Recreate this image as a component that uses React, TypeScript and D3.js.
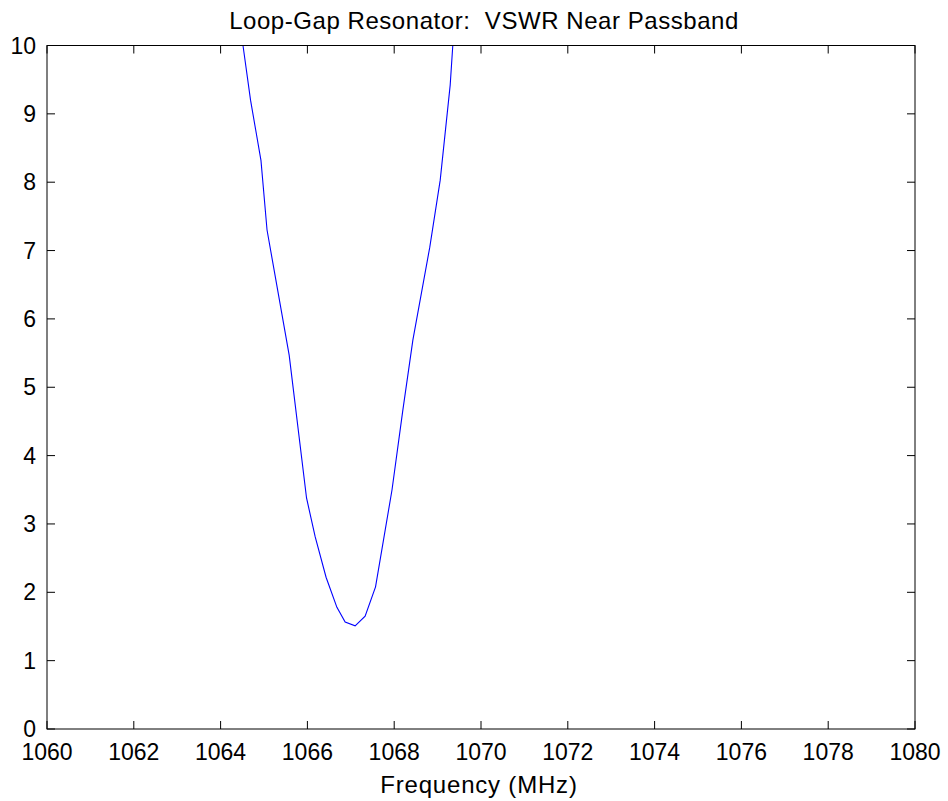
import React from "react";
import * as d3 from "d3";

const freqs = [1064.3, 1064.516, 1064.69, 1064.93, 1065.07, 1065.58, 1065.98, 1066.18, 1066.43, 1066.68, 1066.87, 1067.1, 1067.33, 1067.57, 1067.95, 1068.2, 1068.43, 1068.82, 1069.06, 1069.29, 1069.35, 1069.45];
const vswr = [11.2, 10.0, 9.2, 8.32, 7.3, 5.47, 3.38, 2.81, 2.22, 1.78, 1.565, 1.51, 1.65, 2.08, 3.5, 4.67, 5.69, 7.05, 8.03, 9.42, 10.0, 11.4];
const xTicks = [1060, 1062, 1064, 1066, 1068, 1070, 1072, 1074, 1076, 1078, 1080];
const yTicks = [0, 1, 2, 3, 4, 5, 6, 7, 8, 9, 10];
const title = "Loop-Gap Resonator:  VSWR Near Passband";
const xLabel = "Frequency (MHz)";

export default function App() {
  const W = 948, H = 801;
  const L = 47, R = 915, T = 45.5, B = 729;
  const x = d3.scaleLinear().domain([1060, 1080]).range([L, R]);
  const y = d3.scaleLinear().domain([0, 10]).range([B, T]);
  const pts = freqs.map((f, i) => [f, vswr[i]] as [number, number]);
  const line = d3.line<[number, number]>().x(d => x(d[0])).y(d => y(d[1]));
  const font = "'Liberation Sans', Arial, Helvetica, sans-serif";
  const tick = 8;
  return (
    <svg width={W} height={H} style={{ position: "absolute", left: 0, top: 0, background: "#fff" }} fontFamily={font}>
      <rect x={0} y={0} width={W} height={H} fill="#fff" />
      <defs>
        <clipPath id="plotclip">
          <rect x={L} y={T} width={R - L} height={B - T} />
        </clipPath>
      </defs>
      <path d={line(pts) || ""} fill="none" stroke="#0000ff" strokeWidth={1.1} clipPath="url(#plotclip)" />
      <rect x={L} y={T} width={R - L} height={B - T} fill="none" stroke="#000" strokeWidth={1} />
      {xTicks.map(t => (
        <g key={"x" + t}>
          <line x1={x(t)} x2={x(t)} y1={B} y2={B - tick} stroke="#000" />
          <line x1={x(t)} x2={x(t)} y1={T} y2={T + tick} stroke="#000" />
          <text x={x(t)} y={760} textAnchor="middle" fontSize={23}>{t}</text>
        </g>
      ))}
      {yTicks.map(t => (
        <g key={"y" + t}>
          <line x1={L} x2={L + tick} y1={y(t)} y2={y(t)} stroke="#000" />
          <line x1={R} x2={R - tick} y1={y(t)} y2={y(t)} stroke="#000" />
          <text x={36} y={y(t) + 8} textAnchor="end" fontSize={23}>{t}</text>
        </g>
      ))}
      <text x={484} y={29} textAnchor="middle" fontSize={24} letterSpacing={0.55} style={{ whiteSpace: "pre" }}>{title}</text>
      <text x={479} y={793} textAnchor="middle" fontSize={24} letterSpacing={0.8}>{xLabel}</text>
    </svg>
  );
}
